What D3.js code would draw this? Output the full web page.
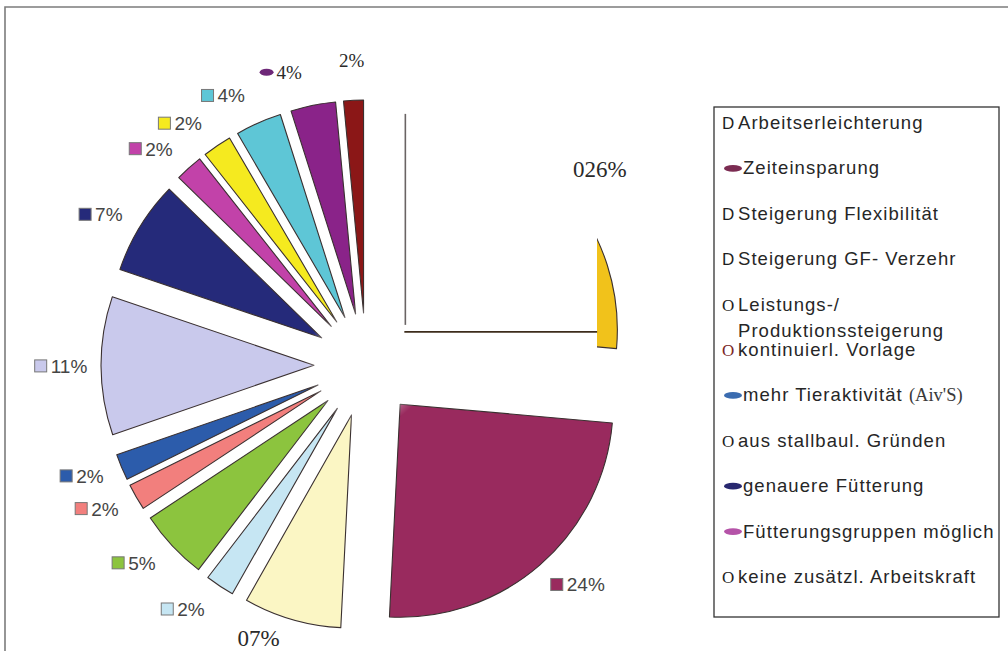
<!DOCTYPE html>
<html>
<head>
<meta charset="utf-8">
<script src="https://cdn.jsdelivr.net/npm/d3@7/dist/d3.min.js"></script>
<style>
  html, body { margin: 0; padding: 0; background: #fff; }
  svg { display: block; }
</style>
</head>
<body>
<div id="chart"></div>
<script>
// slice shares in %, clockwise from 12 o'clock
var values = [26.4, 24.4, 7.4, 2.2, 5.3, 2.0, 2.0, 10.5, 7.1, 2.1, 2.2, 3.5, 3.4, 1.5];
// percent labels as printed next to the slices
var valueLabels = ['026%', '24%', '07%', '2%', '5%', '2%', '2%', '11%', '7%', '2%', '2%', '4%', '4%', '2%'];
// legend entries (only the first eleven slices are listed)
var categories = [
  'Arbeitserleichterung',
  'Zeiteinsparung',
  'Steigerung Flexibilität',
  'Steigerung GF- Verzehr',
  'Leistungs-/\nProduktionssteigerung',
  'kontinuierl. Vorlage',
  "mehr Tieraktivität (Aiv'S)",
  'aus stallbaul. Gründen',
  'genauere Fütterung',
  'Fütterungsgruppen möglich',
  'keine zusätzl. Arbeitskraft'
];

var colors = ['#f1c21b', '#992a5e', '#fbf6c4', '#c6e6f3', '#8cc43e', '#f27f7d', '#2c5cab',
  '#c9c9ec', '#252a7a', '#c242a9', '#f5ea1f', '#5ec6d6', '#8a2389', '#8b1717'];

// legend marker kinds, as they came out of the scan
var legendMarks = [
  { t: 'D' }, { e: '#7b2c52' }, { t: 'D' }, { t: 'D' }, { t: 'O' }, { t: 'O', c: '#7a2626' },
  { e: '#3b6cb0' }, { t: 'O' }, { e: '#28286f' }, { e: '#b553a8' }, { t: 'O' }
];

var config = {
  width: 1008,
  height: 651,
  cx: 366,
  cy: 365,
  radius: 213,
  explode: 52,
  labelRadius: 305,
  labelSqueeze: 0.94,
  sans: '"Liberation Sans", Arial, sans-serif',
  serif: '"Liberation Serif", "Times New Roman", serif'
};

var svg = d3.select('#chart')
    .append('svg')
        .attr('width', config.width)
        .attr('height', config.height);

// frame of the scanned page
svg.append('path')
    .attr('d', 'M5,' + config.height + 'V7H' + config.width)
    .attr('fill', 'none')
    .attr('stroke', '#7c7c7c')
    .attr('stroke-width', 1.6);

var pie = d3.pie()
    .sort(null)
    .value(function(d) { return d; });
var arcs = pie(values);

var arc = d3.arc()
    .innerRadius(0)
    .outerRadius(config.radius);

function mid(d) {
  return (d.startAngle + d.endAngle) / 2;
}

// shift of an exploded slice
function offset(d) {
  var a = mid(d);
  return [Math.sin(a) * config.explode, -Math.cos(a) * config.explode];
}

// labels sit a bit closer to the horizontal than their slices
function labelPos(d) {
  var a = mid(d);
  var flat = a < Math.PI ? Math.PI / 2 : Math.PI * 1.5;
  var delta = a - flat;
  if(Math.abs(delta) < Math.PI * 85 / 180) {
    a = flat + delta * config.labelSqueeze;
  }
  var x = config.cx + Math.sin(a) * config.labelRadius;
  var y = config.cy - Math.cos(a) * config.labelRadius;
  // keep inside the page
  y = Math.min(y, config.height - 13);
  return [x, y];
}

var defs = svg.append('defs');

// first slice: its fill is lost in the scan except for a strip at the rim
var first = offset(arcs[0]);
var tipX = config.cx + first[0];
var tipY = config.cy + first[1];
var stripLocal = config.radius * 0.905;
var stripX = tipX + stripLocal;

defs.append('clipPath')
    .attr('id', 'strip')
  .append('rect')
    .attr('x', stripLocal)
    .attr('y', -config.radius - 20)
    .attr('width', config.radius)
    .attr('height', config.radius * 2 + 40);

var fade = defs.append('radialGradient')
    .attr('id', 'fade');
fade.append('stop').attr('offset', '0%').attr('stop-color', '#fff').attr('stop-opacity', 1);
fade.append('stop').attr('offset', '55%').attr('stop-color', '#fff').attr('stop-opacity', 0.7);
fade.append('stop').attr('offset', '100%').attr('stop-color', '#fff').attr('stop-opacity', 0);

var pieGroup = svg.append('g')
    .attr('class', 'pie')
    .attr('transform', 'translate(' + config.cx + ',' + config.cy + ')');

pieGroup.selectAll('path')
    .data(arcs)
    .enter()
  .append('path')
    .attr('transform', function(d) {
      return 'translate(' + offset(d) + ')';
    })
    .attr('clip-path', function(d, i) {
      return i === 0 ? 'url(#strip)' : null;
    })
    .attr('d', arc)
    .attr('fill', function(d, i) { return colors[i]; })
    .attr('stroke', '#3a3030')
    .attr('stroke-width', 1.1)
    .attr('stroke-linejoin', 'round');

// washed out middle
pieGroup.append('circle')
    .attr('r', 62)
    .attr('fill', 'url(#fade)');

// what is left of the first slice's edges
svg.append('line')
    .attr('x1', tipX + 1)
    .attr('x2', tipX + 1)
    .attr('y1', tipY - config.radius - 3)
    .attr('y2', tipY - 5)
    .attr('stroke', '#6a6464')
    .attr('stroke-width', 1.6);
svg.append('line')
    .attr('x1', tipX)
    .attr('x2', stripX)
    .attr('y1', tipY + 2)
    .attr('y2', tipY + 2)
    .attr('stroke', '#3d2c1c')
    .attr('stroke-width', 1.6);

// percent labels
var serifLabels = { 0: 23, 2: 23, 12: 19, 13: 19 };
var labelGroup = svg.append('g')
    .attr('class', 'labels');

arcs.forEach(function(d, i) {
  var c = labelPos(d);
  var g = labelGroup.append('g')
      .attr('transform', 'translate(' + c[0] + ',' + c[1] + ')');

  if(serifLabels[i]) {
    var t = g.append('text')
        .attr('y', serifLabels[i] * 0.34)
        .style('font-family', config.serif)
        .style('font-size', serifLabels[i] + 'px')
        .attr('fill', '#2a2a2a')
        .text(valueLabels[i]);
    var w = t.node().getComputedTextLength();
    // one of them kept its marker as a blot
    var mark = i === 12 ? 17 : 0;
    t.attr('x', -(w + mark) / 2 + mark);
    if(mark) {
      g.append('ellipse')
          .attr('cx', -(w + mark) / 2 + 7)
          .attr('cy', 0)
          .attr('rx', 7)
          .attr('ry', 3.5)
          .attr('fill', '#6e2878');
    }
    return;
  }

  var text = g.append('text')
      .attr('y', 7)
      .style('font-family', config.sans)
      .style('font-size', '19px')
      .attr('fill', '#454545')
      .text(valueLabels[i]);
  var tw = text.node().getComputedTextLength();
  var total = tw + 16;
  text.attr('x', -total / 2 + 16);
  g.append('rect')
      .attr('x', -total / 2)
      .attr('y', -6)
      .attr('width', 12)
      .attr('height', 12)
      .attr('fill', colors[i])
      .attr('stroke', '#777')
      .attr('stroke-width', 1);
});

// legend
var legend = {
  x: 714,
  y: 107,
  width: 285,
  height: 510
};
var legendGroup = svg.append('g')
    .attr('class', 'legend');

legendGroup.append('rect')
    .attr('x', legend.x)
    .attr('y', legend.y)
    .attr('width', legend.width)
    .attr('height', legend.height)
    .attr('fill', '#fff')
    .attr('stroke', '#333')
    .attr('stroke-width', 1.3);

var rowY = d3.scaleLinear()
    .domain([0, categories.length - 1])
    .range([legend.y + 22, legend.y + 476]);

categories.forEach(function(name, i) {
  var y = rowY(i);
  var m = legendMarks[i];
  var textX = legend.x + 24;

  if(m.e) {
    legendGroup.append('ellipse')
        .attr('cx', legend.x + 19)
        .attr('cy', y - 6)
        .attr('rx', 9)
        .attr('ry', 3.4)
        .attr('fill', m.e);
    textX = legend.x + 29;
  } else {
    legendGroup.append('text')
        .attr('x', legend.x + 8)
        .attr('y', y)
        .style('font-family', m.t == 'O' ? config.serif : config.sans)
        .style('font-size', m.t == 'O' ? '17px' : '17px')
        .attr('fill', m.c || '#1e1e1e')
        .text(m.t);
  }

  var lines = name.split('\n');
  lines.forEach(function(line, k) {
    var t = legendGroup.append('text')
        .attr('x', textX)
        .attr('y', y + k * 26)
        .style('font-family', config.sans)
        .style('font-size', '18.5px')
        .style('letter-spacing', '1.05px')
        .attr('fill', '#262626');
    // bracketed tail came out in a serif face
    var parts = line.match(/^(.*?)(\(.*\))$/);
    if(parts) {
      t.append('tspan').text(parts[1]);
      t.append('tspan')
          .style('font-family', config.serif)
          .style('letter-spacing', '0px')
          .attr('fill', '#3a3a3a')
          .text(parts[2]);
    } else {
      t.text(line);
    }
  });
});
</script>
</body>
</html>
